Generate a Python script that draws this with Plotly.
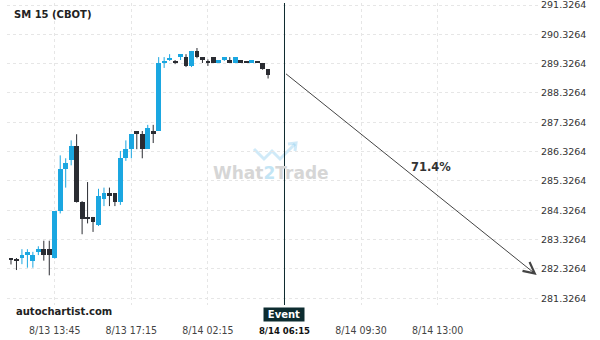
import plotly.graph_objects as go

# ---- data ----
title = "SM 15 (CBOT)"
opens  = [282.70,282.63,282.71,282.81,282.61,282.91,283.00,283.00,282.71,284.30,
          285.75,286.03,286.52,284.61,284.04,284.10,283.83,284.72,284.91,284.91,
          284.62,286.10,286.42,287.03,286.93,286.42,287.03,287.03,289.37,289.47,
          289.38,289.55,289.55,289.25,289.76,289.55,289.37,289.55,289.35,289.46,
          289.44,289.35,289.44,289.38,289.35,289.38,289.35,289.14]
highs  = [282.70,282.70,283.00,283.00,282.91,283.10,283.29,283.29,284.30,286.20,
          286.10,286.71,286.92,284.64,285.29,284.10,285.06,285.10,285.10,284.91,
          286.35,286.71,286.93,287.03,287.03,287.24,287.24,289.55,289.55,289.65,
          289.45,289.65,289.65,289.76,289.86,289.55,289.47,289.55,289.44,289.55,
          289.55,289.55,289.44,289.38,289.44,289.38,289.35,289.14]
lows   = [282.48,282.29,282.49,282.37,282.37,282.80,282.61,282.11,282.68,284.22,
          285.10,285.86,284.59,283.51,283.88,283.59,283.79,284.47,284.47,284.47,
          284.51,286.01,286.10,286.41,286.10,286.42,286.62,287.03,289.18,289.42,
          289.31,289.45,289.21,289.21,289.51,289.35,289.25,289.35,289.35,289.42,
          289.35,289.35,289.35,289.36,289.35,289.36,289.12,288.82]
closes = [282.62,282.62,282.80,282.91,282.80,283.00,282.80,282.80,284.30,285.72,
          285.93,286.52,284.61,284.04,284.03,283.94,284.81,284.91,284.83,284.61,
          286.12,286.42,286.93,286.93,286.42,287.13,286.93,289.35,289.38,289.49,
          289.37,289.65,289.25,289.76,289.55,289.46,289.35,289.35,289.44,289.55,
          289.35,289.55,289.35,289.37,289.44,289.37,289.15,288.94]

x_tick_pos = [8, 22, 36, 50, 64, 78]
x_tick_labels = ["8/13 13:45", "8/13 17:15", "8/14 02:15", "8/14 06:15", "8/14 09:30", "8/14 13:00"]
event_index = 50
y_ticks = [281.3264 + k for k in range(11)]
y_tick_labels = ["%.4f" % v for v in y_ticks]

forecast_start = (50, 289.02)
forecast_end = (96.1, 282.12)
forecast_label = "71.4%"

BLUE = "#1ba7e1"
DARK = "#2b2d33"

fig = go.Figure()

idx = list(range(len(opens)))
for up, col in [(True, BLUE), (False, DARK)]:
    sel = [i for i in idx if (closes[i] >= opens[i]) == up]
    wx, wy = [], []
    for i in sel:
        wx += [i, i, None]
        wy += [lows[i], highs[i], None]
    fig.add_trace(go.Scatter(x=wx, y=wy, mode="lines", line=dict(color=col, width=1),
                             hoverinfo="skip", showlegend=False))
    fig.add_trace(go.Bar(x=sel,
                         base=[min(opens[i], closes[i]) for i in sel],
                         y=[max(abs(closes[i] - opens[i]), 0.035) for i in sel],
                         width=0.88, marker=dict(color=col, line=dict(width=0)),
                         showlegend=False))

W, H = 600, 340
L, R, T, B = 7, 60, 3, 35
pw, ph = W - L - R, H - T - B

def px(x):
    return (x - L) / pw

def py(y):
    return 1 - (y - T) / ph

ticktext = [("<span style='font-family:DejaVu Sans Condensed;font-weight:bold;font-size:9.5px;fill:#111'>%s</span>" % t)
            if p == event_index else t for p, t in zip(x_tick_pos, x_tick_labels)]

fig.update_layout(
    width=W, height=H, margin=dict(l=L, r=R, t=T, b=B, autoexpand=False),
    plot_bgcolor="white", paper_bgcolor="white", barmode="overlay", bargap=0,
    xaxis=dict(range=[-0.73, 96.71], tickvals=x_tick_pos, ticktext=ticktext,
               showgrid=True, gridcolor="#e6e6e6", griddash="3px,3px", gridwidth=1,
               zeroline=False, showline=False, ticks="outside", ticklen=15,
               tickcolor="rgba(0,0,0,0)",
               tickfont=dict(family="DejaVu Sans Condensed, DejaVu Sans", size=10.5, color="#444")),
    yaxis=dict(range=[281.0979, 291.3946], tickvals=y_ticks, ticktext=y_tick_labels,
               side="right", showgrid=True, gridcolor="#e6e6e6", griddash="3px,3px",
               zeroline=False, showline=False, ticks="", ticklabeloverflow="allow",
               tickfont=dict(family="DejaVu Sans", size=9.5, color="#333")),
    font=dict(family="DejaVu Sans"),
)

# event line
fig.add_shape(type="line", xref="x", yref="paper", x0=event_index, x1=event_index,
              y0=0, y1=1, line=dict(color="#0d2a2e", width=1), layer="above")

# forecast arrow
fig.add_annotation(x=forecast_end[0], y=forecast_end[1], ax=forecast_start[0], ay=forecast_start[1],
                   xref="x", yref="y", axref="x", ayref="y", text="", showarrow=True,
                   arrowhead=5, arrowsize=2.2, arrowwidth=1, arrowcolor="#444")
fig.add_annotation(x=px(430.5), y=py(167), xref="paper", yref="paper", xanchor="center", yanchor="middle",
                   text="<b>" + forecast_label + "</b>",
                   showarrow=False, font=dict(family="DejaVu Sans", size=11.5, color="#333"))

# title and source
fig.add_annotation(x=px(12), y=py(15), xref="paper", yref="paper", xanchor="left", yanchor="middle",
                   text="<b>" + title + "</b>", showarrow=False,
                   font=dict(family="DejaVu Sans", size=10, color="#222"))
fig.add_annotation(x=px(14), y=py(311), xref="paper", yref="paper", xanchor="left", yanchor="middle",
                   text="<b>autochartist.com</b>", showarrow=False,
                   font=dict(family="DejaVu Sans", size=10, color="#222"))

# event tag
fig.add_annotation(x=event_index, y=py(314), xref="x", yref="paper", xanchor="center", yanchor="middle",
                   text="<b>Event</b>",
                   showarrow=False, bgcolor="#0d2c30", width=38, height=11, borderpad=1,
                   font=dict(family="DejaVu Sans", size=10, color="white"))

# watermark
fig.add_annotation(x=px(271), y=py(173), xref="paper", yref="paper", xanchor="center", yanchor="middle",
                   text="What<span style='fill:#c3e5f5'>2</span>Trade", showarrow=False,
                   font=dict(family="DejaVu Sans", size=17, color="#d6d6d6", weight="bold"))
pts = [(254, 149), (264, 159), (272, 151), (280, 159), (295, 144)]
path = "M " + " L ".join("%f,%f" % (px(a), py(b)) for a, b in pts)
fig.add_shape(type="path", path=path, xref="paper", yref="paper",
              line=dict(color="rgba(120,195,235,0.35)", width=3), layer="below")
head = [(288, 144), (296, 143), (295, 151)]
path2 = "M " + " L ".join("%f,%f" % (px(a), py(b)) for a, b in head)
fig.add_shape(type="path", path=path2, xref="paper", yref="paper",
              line=dict(color="rgba(120,195,235,0.35)", width=3), layer="below")

fig.write_html("out.html")
